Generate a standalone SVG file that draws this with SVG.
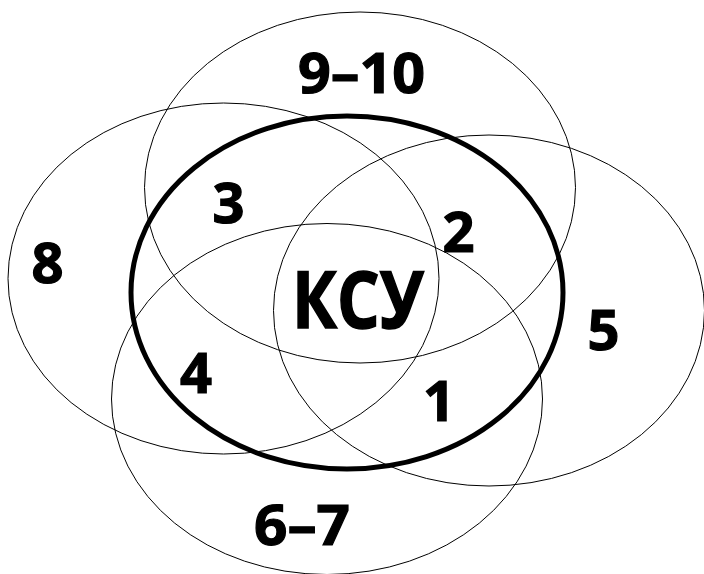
<svg xmlns="http://www.w3.org/2000/svg" width="704" height="574" viewBox="0 0 704 574">
<style>
.e{fill:none;stroke:#000;stroke-width:1}
.t{fill:none;stroke:#000;stroke-width:5}
.l{font-family:"Open Sans","Noto Sans","DejaVu Sans",sans-serif;font-weight:700;font-size:56px;fill:#000;stroke:#000;stroke-width:1.2;text-anchor:middle}
.k{font-size:78px;stroke-width:1.6}
</style>
<rect width="704" height="574" fill="#fff"/>
<g id="sets">
<g id="top"><ellipse class="e" cx="360" cy="187.5" rx="215.5" ry="175.5"/></g>
<g id="left"><ellipse class="e" cx="223.5" cy="278.5" rx="215.5" ry="175.5"/></g>
<g id="right"><ellipse class="e" cx="489" cy="310.5" rx="215.5" ry="175.5"/></g>
<g id="bottom"><ellipse class="e" cx="327" cy="399" rx="215.5" ry="175.5"/></g>
<g id="ksu"><ellipse class="t" cx="347" cy="292.5" rx="216" ry="176.5"/></g>
</g>
<g id="labels">
<text class="l" x="361.5" y="93" textLength="127" lengthAdjust="spacingAndGlyphs">9–10</text>
<text class="l" x="228.5" y="223">3</text>
<text class="l" x="458.5" y="252">2</text>
<text class="l" x="47.5" y="283">8</text>
<text class="l k" x="358" y="328" textLength="132" lengthAdjust="spacingAndGlyphs">КСУ</text>
<text class="l" x="603.5" y="350">5</text>
<text class="l" x="196" y="393">4</text>
<text class="l" x="439" y="421">1</text>
<text class="l" x="302" y="545" textLength="96" lengthAdjust="spacingAndGlyphs">6–7</text>
</g>
</svg>
